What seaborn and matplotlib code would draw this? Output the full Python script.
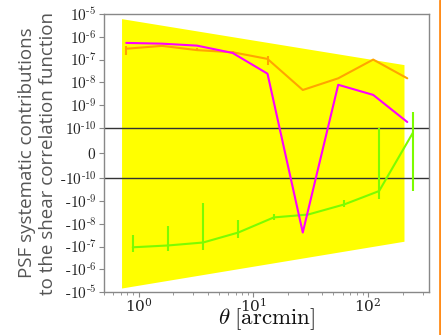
import numpy as np
import pandas as pd
import matplotlib
matplotlib.use("Agg")
import matplotlib.pyplot as plt
from matplotlib.lines import Line2D
import seaborn as sns

# ---- data ----
theta_a = [0.78, 1.6, 3.23, 6.6, 13.3, 27, 55, 111, 220]      # orange / magenta bins
theta_b = [0.89, 1.8, 3.65, 7.4, 15.1, 30, 62, 125, 246]      # green bins

orange = [3.0e-7, 4.0e-7, 2.6e-7, 2.1e-7, 1.07e-7, 4.6e-9, 1.5e-8, 1.0e-7, 1.5e-8]
orange_lo = [1.6e-7, 3.5e-7, 2.3e-7, 1.8e-7, 5.6e-8, 4.6e-9, 1.5e-8, 1.0e-7, 1.5e-8]
orange_hi = [4.1e-7, 4.5e-7, 3.2e-7, 2.5e-7, 1.4e-7, 4.6e-9, 1.5e-8, 1.0e-7, 1.5e-8]

magenta = [5.4e-7, 5.0e-7, 4.1e-7, 1.95e-7, 2.4e-8, -2.4e-8, 7.8e-9, 2.8e-9, 1.8e-10]

green = [-1.07e-7, -8.9e-8, -6.6e-8, -2.4e-8, -5.2e-9, -3.9e-9, -1.4e-9, -3.6e-10, 8e-11]
green_lo = [-1.8e-7, -1.55e-7, -1.35e-7, -4.0e-8, -6.9e-9, -3.9e-9, -1.8e-9, -8.2e-10, -3.6e-10]
green_hi = [-3.2e-8, -1.26e-8, -1.26e-9, -6.9e-9, -3.7e-9, -3.9e-9, -9.3e-10, 1.0e-10, 5.2e-10]

band_x = [0.71, 206]
band_hi = [6.3e-6, 6.0e-8]
band_lo = [-6.6e-6, -5.8e-8]

thresholds = [1e-10, -1e-10]

# ---- style ----
sns.set_style("ticks")
plt.rcParams["mathtext.fontset"] = "cm"
plt.rcParams["font.family"] = ["DejaVu Serif"]

fig = plt.figure(figsize=(4.41, 3.35), dpi=100)
ax = fig.add_axes([0.236, 0.128, 0.737, 0.83])

ax.set_xscale("log")
ax.set_yscale("symlog", linthresh=1e-10, linscale=1)

ax.fill_between(band_x, band_lo, band_hi, color="#ffff00", lw=0, zorder=1)

for yv in thresholds:
    ax.axhline(yv, color="#333333", lw=1.0, zorder=2)

df_o = pd.DataFrame({"theta": theta_a, "val": orange})
df_m = pd.DataFrame({"theta": theta_a, "val": magenta})
df_g = pd.DataFrame({"theta": theta_b, "val": green})

sns.lineplot(data=df_o, x="theta", y="val", ax=ax, color="#ffa500", lw=1.5,
             estimator=None, sort=False, zorder=3)
sns.lineplot(data=df_m, x="theta", y="val", ax=ax, color="#ff00ff", lw=1.5,
             estimator=None, sort=False, zorder=4)
sns.lineplot(data=df_g, x="theta", y="val", ax=ax, color="#7cfc00", lw=1.5,
             estimator=None, sort=False, zorder=3)

ax.vlines(theta_a, orange_lo, orange_hi, color="#ffa500", lw=1.5, zorder=3)
ax.vlines(theta_b, green_lo, green_hi, color="#7cfc00", lw=1.5, zorder=3)

ax.set_xlim(0.5, 341)
ax.set_ylim(-1e-5, 1e-5)

yt = [1e-5, 1e-6, 1e-7, 1e-8, 1e-9, 1e-10, 0, -1e-10, -1e-9, -1e-8, -1e-7, -1e-6, -1e-5]
ax.set_yticks(yt)
labels = []
for v in yt:
    if v == 0:
        labels.append("$0$")
    else:
        e = int(round(np.log10(abs(v))))
        s = r"\text{-}" if v < 0 else ""
        labels.append(r"$%s10^{\text{-}%d}$" % (s, -e))
ax.set_yticklabels(labels)
ax.yaxis.set_minor_locator(matplotlib.ticker.NullLocator())

ax.tick_params(axis="both", which="major", labelsize=11, colors="#888888",
               labelcolor="#222222", length=3.5, width=0.8, pad=2)
ax.tick_params(axis="x", which="major", pad=0)
ax.tick_params(axis="x", which="minor", colors="#888888", length=2, width=0.6)
for sp in ax.spines.values():
    sp.set_color("#888888")
    sp.set_linewidth(1.0)
    sp.set_visible(True)

ax.set_xlabel(r"$\theta\;[\mathrm{arcmin}]$", fontsize=16.5, color="#111111")
ax.xaxis.label.set_va("top")
ax.xaxis.set_label_coords(0.5, -0.052)
ax.set_ylabel("PSF systematic contributions\nto the shear correlation function",
              family=["Open Sans", "DejaVu Sans"], fontsize=13.5, color="#555555",
              linespacing=1.2)
ax.yaxis.set_label_coords(-0.145, 0.5)

fig.add_artist(Line2D([0.9975, 0.9975], [0, 1], color="#ff8c1a", lw=2,
                      transform=fig.transFigure))

fig.savefig("out.png", dpi=100)
